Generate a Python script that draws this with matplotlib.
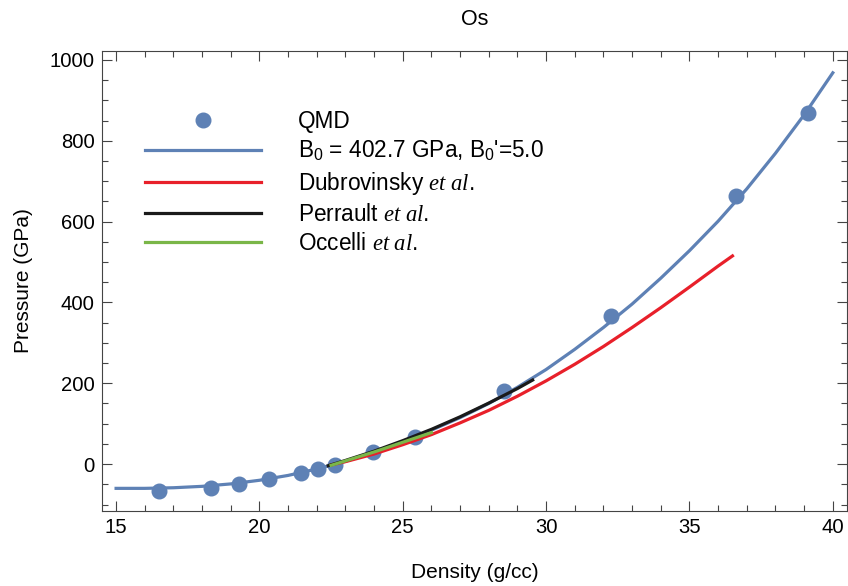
import matplotlib
matplotlib.use("Agg")
import matplotlib.pyplot as plt
from matplotlib.ticker import MultipleLocator

plt.rcParams["font.family"] = ["Liberation Sans", "DejaVu Sans"]
plt.rcParams["mathtext.fontset"] = "custom"
plt.rcParams["mathtext.rm"] = "Liberation Sans"
plt.rcParams["mathtext.it"] = "Liberation Serif:italic"

# QMD points
qmd_rho = [16.51, 18.31, 19.27, 20.32, 21.44, 22.05, 22.65, 23.95, 25.41, 28.54, 32.27, 36.63, 39.14]
qmd_p = [-66, -58, -50, -38, -22, -12, -2, 29, 67, 181, 366, 663, 869]

# EOS fit (B0 = 402.7 GPa, B0' = 5.0)
fit_rho = [15, 16, 17, 18, 19, 20, 21, 22, 23, 24, 25, 26, 27, 28, 29, 30,
           31, 32, 33, 34, 35, 36, 37, 38, 39, 40]
fit_p = [-60, -60, -58.5, -55, -49, -40, -28, -12, 7, 30, 56, 84, 115, 150, 190, 234,
         284, 338, 396, 460, 528, 601, 681, 769, 864, 968]

# experimental curves
dub_rho = [22.5, 23, 24, 25, 26, 27, 28, 29, 30, 31, 32, 33, 34, 35, 36, 36.5]
dub_p = [-2, 6, 25, 48, 73, 102, 133, 168, 206, 247, 291, 338, 387, 438, 490, 515]
per_rho = [22.4, 23, 24, 25, 26, 27, 28, 29, 29.53]
per_p = [-4, 9, 32, 58, 86, 117, 151, 187, 208]
occ_rho = [22.5, 23, 24, 25, 26]
occ_p = [-3, 8, 30, 54, 78]

blue = "#5e81b5"
fig = plt.figure(figsize=(8.48, 5.86), dpi=100)
ax = fig.add_axes([0.12, 0.128, 0.879, 0.785])

ax.plot(fit_rho, fit_p, color=blue, lw=2.3, zorder=2,
        label="B$_0$ = 402.7 GPa, B$_0$'=5.0")
ax.plot(qmd_rho, qmd_p, "o", color=blue, ms=10.5, zorder=3, label="QMD")
ax.plot(dub_rho, dub_p, color="#e8202a", lw=2.3, zorder=4,
        label=r"Dubrovinsky $\it{et\ al}$.")
ax.plot(per_rho, per_p, color="#1a1a1a", lw=2.3, zorder=5,
        label=r"Perrault $\it{et\ al}$.")
ax.plot(occ_rho, occ_p, color="#7ab648", lw=2.3, zorder=6,
        label=r"Occelli $\it{et\ al}$.")

ax.set_xlim(14.5, 40.5)
ax.set_ylim(-116, 1022)
ax.xaxis.set_major_locator(MultipleLocator(5))
ax.xaxis.set_minor_locator(MultipleLocator(1))
ax.yaxis.set_major_locator(MultipleLocator(200))
ax.yaxis.set_minor_locator(MultipleLocator(50))
ax.tick_params(which="both", direction="in", top=True, right=True,
               color="#444444", labelsize=14.6, pad=5)
ax.tick_params(which="major", length=7, width=0.8)
ax.tick_params(which="minor", length=4, width=0.8)
for s in ax.spines.values():
    s.set_color("#444444")

ax.set_xlabel("Density (g/cc)", fontsize=15, labelpad=19)
ax.set_ylabel("Pressure (GPa)", fontsize=15, labelpad=12)
ax.set_title("Os", fontsize=15.5, pad=19)

h, l = ax.get_legend_handles_labels()
order = [1, 0, 2, 3, 4]
ax.legend([h[i] for i in order], [l[i] for i in order], loc="upper left",
          bbox_to_anchor=(0.031, 0.916), frameon=False, fontsize=16.3,
          handlelength=5.1, handletextpad=1.65, labelspacing=0.27)

fig.savefig("out.png", dpi=100)
